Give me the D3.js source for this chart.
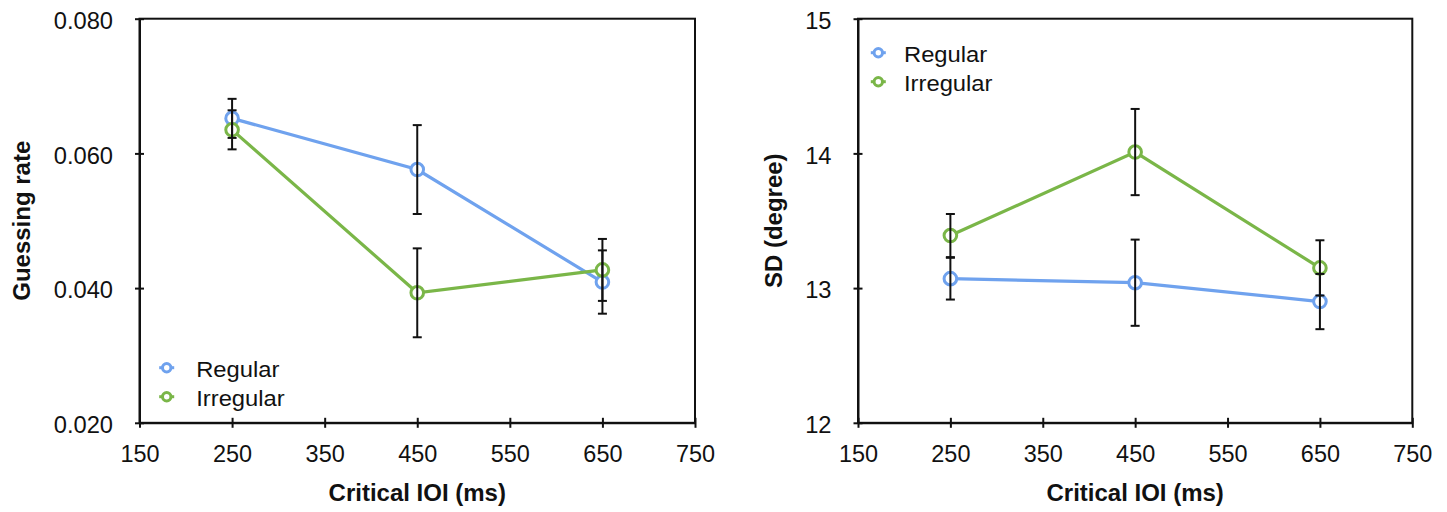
<!DOCTYPE html>
<html>
<head>
<meta charset="utf-8">
<script src="https://cdn.jsdelivr.net/npm/d3@7"></script>
<style>
  html, body { margin: 0; padding: 0; background: #fff; }
  svg { display: block; }
  text { font-family: "Liberation Sans", Arial, Helvetica, sans-serif; fill: #111; }
</style>
</head>
<body>
<svg id="chart" width="1447" height="512"></svg>
<script>
// ---------- data ----------
const ioi = [250, 450, 650];
const xTicks = [150, 250, 350, 450, 550, 650, 750];
const seriesNames = ["Regular", "Irregular"];

const guessTicks = [0.020, 0.040, 0.060, 0.080];
const guessRegular = [0.0652, 0.0576, 0.0409];
const guessRegularErr = [0.0029, 0.0066, 0.0047];
const guessIrregular = [0.0635, 0.0393, 0.0427];
const guessIrregularErr = [0.0029, 0.0066, 0.0046];

const sdTicks = [12, 13, 14, 15];
const sdRegular = [13.07, 13.04, 12.90];
const sdRegularErr = [0.155, 0.32, 0.205];
const sdIrregular = [13.39, 14.01, 13.15];
const sdIrregularErr = [0.16, 0.32, 0.205];

// ---------- styles ----------
const colors = { Regular: "#6fa2ee", Irregular: "#7ab648" };
const ink = "#111";

const svg = d3.select("#chart");

function stretch(sel, k) {
  sel.each(function () {
    const w = this.getComputedTextLength();
    this.setAttribute("textLength", w * k);
    this.setAttribute("lengthAdjust", "spacingAndGlyphs");
  });
}

function panel(cfg) {
  const x = d3.scaleLinear().domain([150, 750]).range([cfg.left, cfg.right]);
  const y = d3.scaleLinear().domain(cfg.yDomain).range([cfg.bottom, cfg.top]);
  const g = svg.append("g");

  // frame (top/right)
  g.append("rect")
    .attr("x", cfg.left).attr("y", cfg.top)
    .attr("width", cfg.right - cfg.left).attr("height", cfg.bottom - cfg.top)
    .attr("fill", "none").attr("stroke", ink).attr("stroke-width", 2);

  // x axis
  const xa = g.append("g").attr("transform", `translate(0,${cfg.bottom})`)
    .call(d3.axisBottom(x).tickValues(xTicks).tickFormat(d3.format("d")).tickSizeOuter(0).tickPadding(0));
  xa.select(".domain").attr("stroke", ink).attr("stroke-width", 2);
  xa.selectAll(".tick line").attr("y1", -5).attr("y2", 5).attr("stroke", ink).attr("stroke-width", 2);
  xa.selectAll(".tick text").attr("y", 39.5).attr("dy", 0)
    .style("font-size", "23px").attr("fill", ink);
  stretch(xa.selectAll(".tick text"), 1.02);

  // y axis
  const ya = g.append("g").attr("transform", `translate(${cfg.left},0)`)
    .call(d3.axisLeft(y).tickValues(cfg.yTicks).tickFormat(cfg.fmt).tickSizeOuter(0).tickPadding(0));
  ya.select(".domain").attr("stroke", ink).attr("stroke-width", 2);
  ya.selectAll(".tick line").attr("x1", -4.5).attr("x2", 4.5).attr("stroke", ink).attr("stroke-width", 2);
  ya.selectAll(".tick text").attr("x", -26.5).attr("dy", "0.42em")
    .style("font-size", "23px").attr("fill", ink);
  stretch(ya.selectAll(".tick text"), 1.03);

  // axis titles
  g.append("text")
    .attr("x", x(450)).attr("y", 501)
    .attr("text-anchor", "middle")
    .style("font-size", "24px").style("font-weight", "bold")
    .text("Critical IOI (ms)");
  g.append("text")
    .attr("transform", `translate(${cfg.yTitleX},${(cfg.top + cfg.bottom) / 2}) rotate(-90)`)
    .attr("text-anchor", "middle")
    .style("font-size", "24px").style("font-weight", "bold")
    .text(cfg.yTitle);

  const series = [
    { name: "Regular", vals: cfg.reg, errs: cfg.regErr },
    { name: "Irregular", vals: cfg.irr, errs: cfg.irrErr }
  ];
  const line = d3.line().x(d => x(d.x)).y(d => y(d.v));

  series.forEach(s => {
    const pts = ioi.map((xv, i) => ({ x: xv, v: s.vals[i], e: s.errs[i] }));
    g.append("path").datum(pts)
      .attr("d", line).attr("fill", "none")
      .attr("stroke", colors[s.name]).attr("stroke-width", 3.2);
    s.pts = pts;
  });
  series.forEach(s => {
    g.selectAll(null).data(s.pts).enter().append("circle")
      .attr("cx", d => x(d.x)).attr("cy", d => y(d.v)).attr("r", 6.3)
      .attr("fill", "#fff").attr("stroke", colors[s.name]).attr("stroke-width", 3);
  });
  // error bars on top
  series.forEach(s => {
    const eb = g.selectAll(null).data(s.pts).enter().append("g");
    eb.append("line")
      .attr("x1", d => x(d.x)).attr("x2", d => x(d.x))
      .attr("y1", d => y(d.v - d.e)).attr("y2", d => y(d.v + d.e))
      .attr("stroke", ink).attr("stroke-width", 2);
    eb.append("line")
      .attr("x1", d => x(d.x) - 4.5).attr("x2", d => x(d.x) + 4.5)
      .attr("y1", d => y(d.v + d.e)).attr("y2", d => y(d.v + d.e))
      .attr("stroke", ink).attr("stroke-width", 2);
    eb.append("line")
      .attr("x1", d => x(d.x) - 4.5).attr("x2", d => x(d.x) + 4.5)
      .attr("y1", d => y(d.v - d.e)).attr("y2", d => y(d.v - d.e))
      .attr("stroke", ink).attr("stroke-width", 2);
  });

  // legend
  const lg = g.append("g").attr("transform", `translate(${cfg.legX},${cfg.legY})`);
  seriesNames.forEach((name, i) => {
    const row = lg.append("g").attr("transform", `translate(0,${i * 29})`);
    row.append("line").attr("x1", -7.5).attr("x2", 7.5).attr("y1", 0).attr("y2", 0)
      .attr("stroke", colors[name]).attr("stroke-width", 3);
    row.append("circle").attr("r", 4.2).attr("fill", "#fff")
      .attr("stroke", colors[name]).attr("stroke-width", 3);
    const t = row.append("text").attr("x", cfg.legTextDx).attr("y", 9)
      .style("font-size", "22px").text(name);
    stretch(t, 1.08);
  });
}

panel({
  left: 139.5, right: 695, top: 18.7, bottom: 422.8,
  yDomain: [0.02, 0.08], yTicks: guessTicks, fmt: d3.format(".3f"),
  yTitle: "Guessing rate", yTitleX: 30,
  reg: guessRegular, regErr: guessRegularErr,
  irr: guessIrregular, irrErr: guessIrregularErr,
  legX: 166.7, legY: 367.7, legTextDx: 29.5
});

panel({
  left: 858, right: 1412.3, top: 18.7, bottom: 422.8,
  yDomain: [12, 15], yTicks: sdTicks, fmt: d3.format("d"),
  yTitle: "SD (degree)", yTitleX: 782,
  reg: sdRegular, regErr: sdRegularErr,
  irr: sdIrregular, irrErr: sdIrregularErr,
  legX: 878.3, legY: 52.7, legTextDx: 25.7
});
</script>
</body>
</html>
